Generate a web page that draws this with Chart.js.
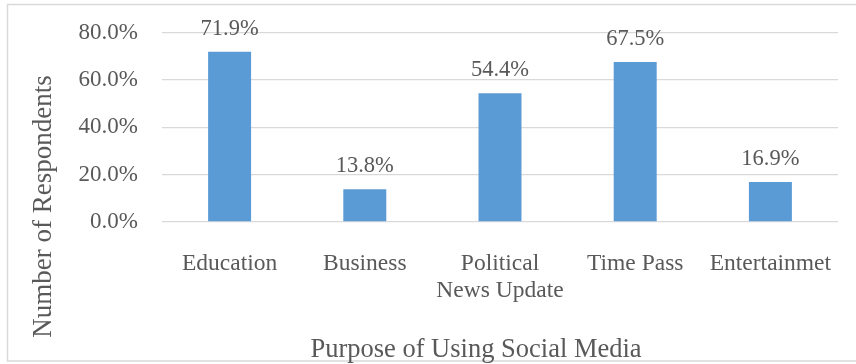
<!DOCTYPE html>
<html>
<head>
<meta charset="utf-8">
<script src="https://cdn.jsdelivr.net/npm/chart.js@4/dist/chart.umd.min.js"></script>
<style>
  html, body { margin: 0; padding: 0; background: #ffffff; }
  #wrap { width: 856px; height: 364px; }
</style>
</head>
<body>
<div id="wrap"><canvas id="chart" width="856" height="364"></canvas></div>
<script>
// Purposes of social media use and share of respondents (%)
const categories = ['Education', 'Business', ['Political', 'News Update'], 'Time Pass', 'Entertainmet'];
const shares = [71.9, 13.8, 54.4, 67.5, 16.9];
const yTicks = [0, 20, 40, 60, 80];
const xTitle = 'Purpose of Using Social Media';
const yTitle = 'Number of Respondents';

const SERIF = '"Liberation Serif", "Times New Roman", serif';
const TEXT = '#595959';

// Value labels printed above each bar
const barValueLabels = {
  id: 'barValueLabels',
  afterDatasetsDraw(chart) {
    const ctx = chart.ctx;
    const meta = chart.getDatasetMeta(0);
    ctx.save();
    ctx.font = '22.5px ' + SERIF;
    ctx.fillStyle = TEXT;
    ctx.textAlign = 'center';
    ctx.textBaseline = 'alphabetic';
    meta.data.forEach((bar, i) => {
      const v = chart.data.datasets[0].data[i];
      ctx.fillText(v.toFixed(1) + '%', bar.x, bar.y - 17);
    });
    ctx.restore();
  }
};

// Frame around the whole chart plus the two axis titles
const frameAndTitles = {
  id: 'frameAndTitles',
  beforeDraw(chart) {
    const ctx = chart.ctx;
    ctx.save();
    ctx.fillStyle = '#ffffff';
    ctx.fillRect(0, 0, chart.width, chart.height);
    ctx.strokeStyle = '#d9d9d9';
    ctx.lineWidth = 1.5;
    ctx.strokeRect(7.5, 4.5, chart.width, 356.5);
    ctx.restore();
  },
  afterDraw(chart) {
    const ctx = chart.ctx;
    ctx.save();
    ctx.fillStyle = TEXT;
    ctx.font = '26.5px ' + SERIF;
    ctx.textAlign = 'center';
    ctx.textBaseline = 'alphabetic';
    ctx.fillText(xTitle, 476, 357);
    ctx.translate(44, 206.5);
    ctx.rotate(-Math.PI / 2);
    ctx.textBaseline = 'middle';
    ctx.font = '27px ' + SERIF;
    ctx.fillText(yTitle, 0, 0);
    ctx.restore();
  }
};

new Chart(document.getElementById('chart'), {
  type: 'bar',
  data: {
    labels: categories,
    datasets: [{
      data: shares,
      backgroundColor: '#5b9bd5',
      borderWidth: 0,
      categoryPercentage: 1,
      barPercentage: 0.318
    }]
  },
  options: {
    responsive: false,
    animation: false,
    devicePixelRatio: 1,
    layout: { padding: { top: 32.5, right: 18, bottom: 0, left: 0 } },
    plugins: {
      legend: { display: false },
      tooltip: { enabled: false },
      title: { display: false }
    },
    scales: {
      x: {
        grid: { display: false, drawTicks: false },
        border: { display: false },
        ticks: {
          color: TEXT,
          font: { family: SERIF, size: 23.5, lineHeight: 1.15 },
          padding: 28.5,
          maxRotation: 0,
          autoSkip: false
        },
        afterFit(scale) {
          scale.height = 142;
          scale.paddingLeft = 0;
          scale.paddingRight = 0;
        }
      },
      y: {
        min: 0,
        max: 80,
        afterBuildTicks(scale) { scale.ticks = yTicks.map(v => ({ value: v })); },
        grid: { color: '#d9d9d9', lineWidth: 1.3, drawTicks: false },
        border: { display: false },
        ticks: {
          color: TEXT,
          font: { family: SERIF, size: 23 },
          padding: 24,
          callback: v => v.toFixed(1) + '%'
        },
        afterFit(scale) {
          scale.width = 162;
          scale.paddingTop = 0;
          scale.paddingBottom = 0;
        }
      }
    }
  },
  plugins: [barValueLabels, frameAndTitles]
});
</script>
</body>
</html>
